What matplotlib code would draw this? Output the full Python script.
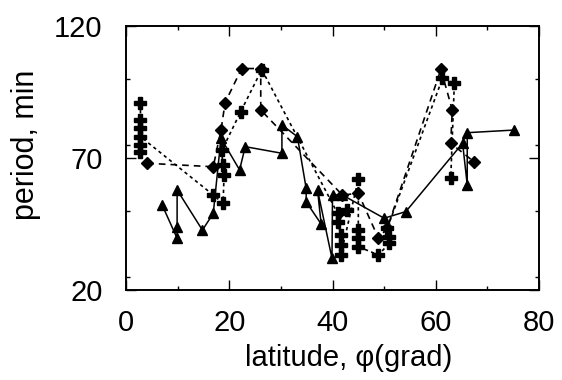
import matplotlib
matplotlib.use("Agg")
import matplotlib.pyplot as plt
from matplotlib.ticker import MultipleLocator

plt.rcParams['font.family'] = ['Liberation Sans', 'DejaVu Sans']

# Triangle series (solid line)
tri_x = [7.0, 9.9, 9.9, 9.9, 14.8, 16.9, 18.4, 22.0, 23.1, 30.2, 30.2, 33.2, 34.9, 34.9,
         37.8, 37.1, 39.9, 40.0, 41.9, 50.0, 54.2, 65.2, 66.1, 66.1, 75.2]
tri_y = [52.2, 39.6, 44.0, 57.9, 42.7, 49.0, 77.5, 65.5, 74.3, 71.8, 82.5, 78.1, 58.5, 53.4,
         45.0, 57.9, 32.0, 56.0, 56.0, 47.2, 49.7, 75.6, 59.8, 79.6, 80.6]

# Diamond series (dashed line)
dia_x = [4.1, 16.9, 18.4, 19.2, 22.4, 26.1, 26.1, 41.9, 45.0, 48.9, 50.6, 61.0, 63.2, 62.9, 67.4]
dia_y = [68.0, 66.7, 80.6, 91.0, 103.9, 103.9, 88.2, 56.0, 56.6, 39.6, 43.4, 103.6, 88.2, 75.6, 68.6]

# Cross series (dotted line)
crs_x = [2.8, 2.8, 2.8, 2.8, 2.8, 2.8, 16.9, 18.8, 19.0, 18.7, 18.6, 22.2, 26.3, 41.0, 42.9,
         41.0, 41.6, 41.6, 41.6, 45.0, 45.0, 45.0, 45.0, 48.9, 51.0, 51.0, 50.6, 61.3, 63.6, 62.9]
crs_y = [90.7, 84.4, 81.2, 72.4, 74.9, 78.1, 56.0, 52.8, 63.6, 67.3, 73.0, 87.5, 103.5, 49.0, 50.3,
         45.9, 40.8, 37.0, 33.3, 61.9, 42.7, 39.6, 36.4, 33.3, 37.7, 40.2, 43.4, 100.2, 98.3, 62.3]

x_ticks = [0, 20, 40, 60, 80]
y_ticks = [20, 70, 120]

fig = plt.figure(figsize=(5.62, 3.80), dpi=100)
ax = fig.add_axes([0.2242, 0.2368, 0.7349, 0.6947])

ax.plot(tri_x, tri_y, color='black', linestyle='-', linewidth=1.1,
        marker='^', markersize=7, markerfacecolor='black', markeredgecolor='black')
ax.plot(dia_x, dia_y, color='black', linestyle=(0, (4, 3)), linewidth=1.2,
        marker='D', markersize=6, markerfacecolor='black', markeredgecolor='black')
ax.plot(crs_x, crs_y, color='black', linestyle=(0, (2, 2)), linewidth=1.2,
        marker='P', markersize=8, markerfacecolor='black', markeredgecolor='black')

ax.set_xlim(0, 80)
ax.set_ylim(20, 120)
ax.set_xticks(x_ticks)
ax.set_yticks(y_ticks)
ax.xaxis.set_minor_locator(MultipleLocator(10))
ax.yaxis.set_minor_locator(MultipleLocator(25))

ax.tick_params(which='both', direction='in', top=True, right=True, width=1.0, color='black')
ax.tick_params(which='major', length=7)
ax.tick_params(which='minor', length=3)
ax.tick_params(axis='x', which='major', labelsize=21, pad=14)
ax.tick_params(axis='y', which='major', labelsize=21, pad=17)

for s in ax.spines.values():
    s.set_linewidth(1.4)
    s.set_color('black')

ax.set_xlabel('latitude, \u03c6(grad)', fontsize=21)
ax.set_ylabel('period, min', fontsize=22)
ax.xaxis.set_label_coords(0.54, -0.205)
ax.yaxis.set_label_coords(-0.205, 0.55)

fig.savefig('out.png', dpi=100)
